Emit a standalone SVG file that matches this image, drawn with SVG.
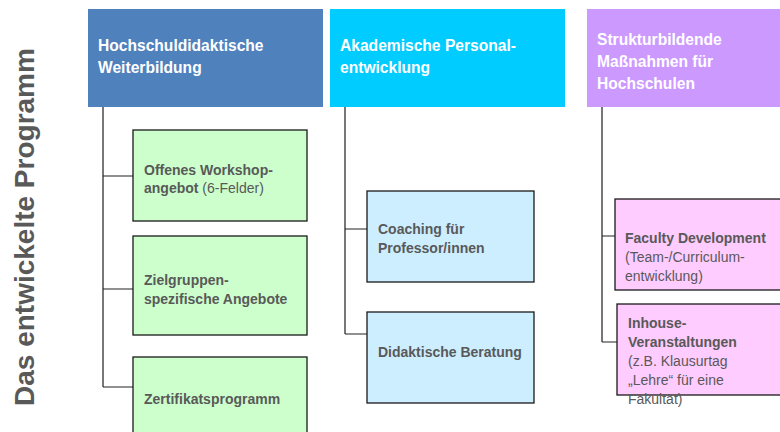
<svg xmlns="http://www.w3.org/2000/svg" width="780" height="432" viewBox="0 0 780 432">
<style>
.hdr{font-family:"Liberation Sans",Arial,sans-serif;font-size:15.6px;font-weight:bold;fill:#ffffff}
.t{font-family:"Liberation Sans",Arial,sans-serif;font-size:14px;fill:#595959}
.b{font-weight:bold}
.box{stroke:#1a1a1a;stroke-width:1.3}
.trunk{stroke:#555555;stroke-width:1.6;fill:none}
.branch{stroke:#222222;stroke-width:1.1;fill:none}
</style>
<rect width="780" height="432" fill="#ffffff"/>
<text x="34" y="406" transform="rotate(-90 34 406)" font-family="Liberation Sans,Arial,sans-serif" font-size="28" font-weight="bold" fill="#595959">Das entwickelte Programm</text>
<g id="connectors">
<path class="trunk" d="M103 107V387"/>
<path class="branch" d="M103 176H133M103 289H133M103 387H133"/>
<path class="trunk" d="M345 107V334"/>
<path class="branch" d="M345 229H367M345 334H367"/>
<path class="trunk" d="M602 107V342"/>
<path class="branch" d="M602 236H615M602 342H617"/>
</g>
<g id="h1"><rect x="88" y="9" width="235" height="98" fill="#4f81bd"/><text class="hdr" x="98" y="51">Hochschuldidaktische</text><text class="hdr" x="98" y="73">Weiterbildung</text></g>
<g id="h2"><rect x="330" y="9" width="235" height="98" fill="#00ccff"/><text class="hdr" x="340" y="51">Akademische Personal-</text><text class="hdr" x="340" y="73">entwicklung</text></g>
<g id="h3"><rect x="587" y="9" width="193" height="98" fill="#cc99ff"/><text class="hdr" x="597" y="45">Strukturbildende</text><text class="hdr" x="597" y="67">Maßnahmen für</text><text class="hdr" x="597" y="89">Hochschulen</text></g>
<g id="g1"><rect class="box" x="133" y="130" width="174" height="91" fill="#ccffcc"/><text class="t b" x="144" y="175">Offenes Workshop-</text><text class="t" x="144" y="193"><tspan class="b">angebot</tspan> (6-Felder)</text></g>
<g id="g2"><rect class="box" x="133" y="236" width="174" height="99" fill="#ccffcc"/><text class="t b" x="144" y="285">Zielgruppen-</text><text class="t b" x="144" y="304">spezifische Angebote</text></g>
<g id="g3"><rect class="box" x="133" y="357" width="174" height="90" fill="#ccffcc"/><text class="t b" x="144" y="404">Zertifikatsprogramm</text></g>
<g id="b1"><rect class="box" x="367" y="191" width="167" height="91" fill="#cceeff"/><text class="t b" x="378" y="234">Coaching für</text><text class="t b" x="378" y="253">Professor/innen</text></g>
<g id="b2"><rect class="box" x="367" y="312" width="167" height="91" fill="#cceeff"/><text class="t b" x="378" y="357">Didaktische Beratung</text></g>
<g id="p1"><rect class="box" x="615" y="199" width="175" height="91" fill="#ffccff"/><text class="t b" x="625" y="243">Faculty Development</text><text class="t" x="625" y="262">(Team-/Curriculum-</text><text class="t" x="625" y="281">entwicklung)</text></g>
<g id="p2"><rect class="box" x="617" y="304" width="173" height="91" fill="#ffccff"/><text class="t b" x="628" y="328">Inhouse-</text><text class="t b" x="628" y="347">Veranstaltungen</text><text class="t" x="628" y="366">(z.B. Klausurtag</text><text class="t" x="628" y="385">„Lehre“ für eine</text><text class="t" x="628" y="404">Fakultät)</text></g>
</svg>
